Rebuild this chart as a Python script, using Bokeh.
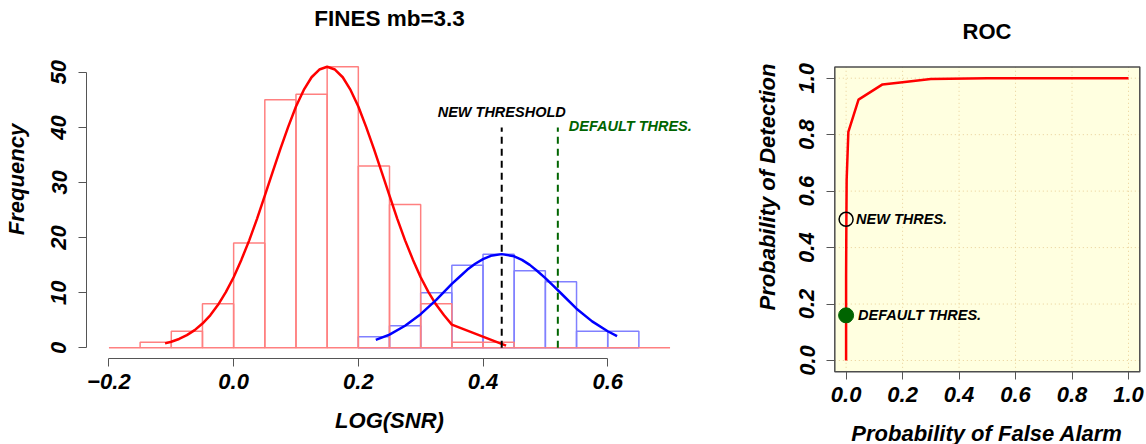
from bokeh.plotting import figure
from bokeh.layouts import row
from bokeh.models import FixedTicker, Range1d, PrintfTickFormatter
from bokeh.embed import file_html
from bokeh.resources import INLINE
from bokeh.core.properties import value

# ---------------- data ----------------
bin_width = 0.05
red_bin_left = [-0.20, -0.15, -0.10, -0.05, 0.00, 0.05, 0.10, 0.15, 0.20,
                0.25, 0.30, 0.35, 0.40, 0.45, 0.50, 0.55, 0.60, 0.65]
red_counts = [0, 1, 3, 8, 19, 45, 46, 51, 33, 26, 8, 1, 1, 0, 0, 0, 0, 0]

blue_bin_left = [0.20, 0.25, 0.30, 0.35, 0.40, 0.45, 0.50, 0.55, 0.60]
blue_counts = [2, 4, 10, 15, 17, 14, 12, 3, 3]

red_curve_x = [-0.11, -0.10, -0.0875, -0.075, -0.0625, -0.05, -0.0375, -0.025, -0.0125,
               0.0, 0.0125, 0.025, 0.0375, 0.05, 0.0625, 0.075, 0.0875, 0.10, 0.1125,
               0.125, 0.1375, 0.15, 0.1625, 0.175, 0.1875, 0.20, 0.2125, 0.225, 0.2375,
               0.25, 0.2625, 0.275, 0.2875, 0.30, 0.3125, 0.325, 0.3375, 0.35, 0.437]
red_curve_y = [0.8, 1.1, 1.6, 2.3, 3.2, 4.4, 5.9, 7.8, 10.1,
               12.8, 16.0, 19.5, 23.4, 27.6, 31.9, 36.1, 40.1, 43.8, 46.8,
               49.1, 50.5, 51.0, 50.5, 49.1, 46.8, 43.8, 40.1, 36.1, 31.9,
               27.6, 23.4, 19.5, 16.0, 12.8, 10.1, 7.8, 5.9, 4.2, 0.4]

blue_curve_x = [0.228, 0.25, 0.275, 0.30, 0.325, 0.35, 0.3625, 0.375, 0.3875, 0.40,
                0.4125, 0.43, 0.45, 0.4625, 0.475, 0.4875, 0.50, 0.5125, 0.525,
                0.55, 0.575, 0.60, 0.615]
blue_curve_y = [1.45, 2.4, 4.0, 6.1, 8.7, 11.6, 12.9, 14.2, 15.25, 16.1,
                16.7, 17.0, 16.6, 15.95, 15.05, 13.9, 12.65, 11.3, 9.9,
                7.1, 4.8, 3.0, 2.1]

new_threshold = 0.43
default_threshold = 0.52
threshold_line_top = 40

hist_x_ticks = [-0.2, 0.0, 0.2, 0.4, 0.6]
hist_x_labels = ["\u22120.2", "0.0", "0.2", "0.4", "0.6"]
hist_y_ticks = [0, 10, 20, 30, 40, 50]
hist_box = (-0.236, 0.736, -2.04, 53.04)   # R plot region (xmin, xmax, ymin, ymax)

roc_pfa = [0.0, 0.0, 0.001, 0.002, 0.008, 0.044, 0.129, 0.2, 0.3, 0.5, 1.0]
roc_pd = [0.0, 0.3, 0.5, 0.64, 0.81, 0.924, 0.978, 0.986, 0.997, 1.0, 1.0]
roc_ticks = [0.0, 0.2, 0.4, 0.6, 0.8, 1.0]
roc_lim = (-0.04, 1.04)
new_point = (0.0, 0.50)
default_point = (0.0, 0.16)

FONT = "Liberation Sans"
TICK_FS = "22px"
LAB_FS = "22px"
ANN_FS = "14.5px"
DARKGREEN = "#006400"

# histogram: frame from canvas top down to the x-axis line (358 px)
H_FRAME_H = 358
H_PX_Y = 5.51          # px per count
H_Y0 = 347.3           # px of count 0
# ROC: frame from canvas top down to 373 px
R_FRAME_H = 373
R_PX = 282.3           # px per unit
R_Y0 = 360.0           # px of y=0


def style_axes(p):
    for ax in (p.xaxis, p.yaxis):
        ax.major_label_text_font = FONT
        ax.major_label_text_font_style = "bold italic"
        ax.major_label_text_font_size = TICK_FS
        ax.major_label_text_color = "black"
        ax.axis_label_text_font = FONT
        ax.axis_label_text_font_style = "bold italic"
        ax.axis_label_text_font_size = LAB_FS
        ax.axis_label_text_color = "black"
        ax.major_tick_line_color = "#555555"
        ax.minor_tick_line_color = None
    p.yaxis.major_label_orientation = "vertical"


def add_title(p, text, x, offset, size):
    p.text(x=[x], y=[p.y_range.end], text=[text], text_align="center",
           text_baseline="middle", y_offset=offset,
           text_font=value(FONT), text_font_style="bold",
           text_font_size=size, text_color="black")


# ---------------- histogram panel ----------------
p1 = figure(frame_width=606, frame_height=H_FRAME_H,
            x_range=Range1d(hist_box[0], hist_box[1]),
            y_range=Range1d(-(H_FRAME_H - H_Y0) / H_PX_Y, H_Y0 / H_PX_Y),
            min_border_left=84, min_border_right=30,
            min_border_top=0, min_border_bottom=444 - H_FRAME_H,
            output_backend="svg", toolbar_location=None)
p1.frame_align = False
p1.outline_line_color = None
p1.grid.visible = False
style_axes(p1)
add_title(p1, "FINES mb=3.3", (hist_box[0] + hist_box[1]) / 2, 18.3, "22.5px")

p1.quad(left=blue_bin_left, right=[b + bin_width for b in blue_bin_left],
        bottom=0, top=blue_counts, fill_color=None,
        line_color="#8080FF", line_width=1.5)
p1.quad(left=red_bin_left, right=[b + bin_width for b in red_bin_left],
        bottom=0, top=red_counts, fill_color=None,
        line_color="#FF8080", line_width=1.5)
p1.line(red_curve_x, red_curve_y, line_color="red", line_width=2.5)
p1.line(blue_curve_x, blue_curve_y, line_color="blue", line_width=2.5)

p1.segment(x0=[new_threshold], y0=[0], x1=[new_threshold], y1=[threshold_line_top],
           line_color="black", line_width=2, line_dash="7 5")
p1.segment(x0=[default_threshold], y0=[0], x1=[default_threshold], y1=[threshold_line_top],
           line_color=DARKGREEN, line_width=2, line_dash="7 5")
p1.text(x=[new_threshold], y=[threshold_line_top], text=["NEW THRESHOLD"],
        text_align="center", text_baseline="bottom", y_offset=-7,
        text_font=value(FONT), text_font_style="bold italic",
        text_font_size=ANN_FS, text_color="black")
p1.text(x=[default_threshold], y=[threshold_line_top], text=["DEFAULT THRES."],
        text_align="left", text_baseline="middle", x_offset=11, y_offset=-1,
        text_font=value(FONT), text_font_style="bold italic",
        text_font_size=ANN_FS, text_color=DARKGREEN)

p1.xaxis.axis_label = "LOG(SNR)"
p1.yaxis.axis_label = "Frequency"
p1.xaxis.ticker = FixedTicker(ticks=hist_x_ticks)
p1.xaxis.major_label_overrides = dict(zip(hist_x_ticks, hist_x_labels))
p1.xaxis.bounds = (hist_x_ticks[0], hist_x_ticks[-1])
p1.yaxis.ticker = FixedTicker(ticks=hist_y_ticks)
p1.yaxis.bounds = (hist_y_ticks[0], hist_y_ticks[-1])
p1.xaxis.axis_line_color = "#555555"
p1.yaxis.axis_line_color = "#555555"
for ax in (p1.xaxis, p1.yaxis):
    ax.major_tick_in = 0
    ax.major_tick_out = 8
p1.xaxis.major_label_standoff = 7
p1.xaxis.axis_label_standoff = 16
p1.yaxis.major_label_standoff = 12
p1.yaxis.axis_label_standoff = 20

# ---------------- ROC panel ----------------
r_x0 = roc_lim[0] - 2.3 / R_PX
r_x1 = roc_lim[1] + 1.7 / R_PX
p2 = figure(frame_width=309, frame_height=R_FRAME_H,
            x_range=Range1d(r_x0, r_x1),
            y_range=Range1d(-(R_FRAME_H - R_Y0) / R_PX, R_Y0 / R_PX),
            min_border_left=110, min_border_right=7,
            min_border_top=0, min_border_bottom=444 - R_FRAME_H,
            output_backend="svg", toolbar_location=None)
p2.frame_align = False
p2.outline_line_color = None
p2.grid.visible = False
style_axes(p2)
add_title(p2, "ROC", (r_x0 + r_x1) / 2, 30.7, "22px")

p2.quad(left=[roc_lim[0]], right=[roc_lim[1]], bottom=[roc_lim[0]], top=[roc_lim[1]],
        fill_color="#FFFFE0", line_color=None)
p2.segment(x0=roc_ticks, y0=[roc_lim[0]] * len(roc_ticks),
           x1=roc_ticks, y1=[roc_lim[1]] * len(roc_ticks),
           line_color="#E8CF98", line_dash="1 3", line_width=1)
p2.segment(x0=[roc_lim[0]] * len(roc_ticks), y0=roc_ticks,
           x1=[roc_lim[1]] * len(roc_ticks), y1=roc_ticks,
           line_color="#E8CF98", line_dash="1 3", line_width=1)
p2.quad(left=[roc_lim[0]], right=[roc_lim[1]], bottom=[roc_lim[0]], top=[roc_lim[1]],
        fill_color=None, line_color="#4d4d4d", line_width=1.5)

p2.xaxis.ticker = FixedTicker(ticks=roc_ticks)
p2.yaxis.ticker = FixedTicker(ticks=roc_ticks)
p2.xaxis.formatter = PrintfTickFormatter(format="%.1f")
p2.yaxis.formatter = PrintfTickFormatter(format="%.1f")
p2.xaxis.axis_line_color = None
p2.yaxis.axis_line_color = None
for ax in (p2.xaxis, p2.yaxis):
    ax.major_tick_in = 2
    ax.major_tick_out = 6
p2.xaxis.axis_label = "Probability of False Alarm"
p2.yaxis.axis_label = "Probability of Detection"
p2.xaxis.major_label_standoff = 7
p2.xaxis.axis_label_standoff = 16
p2.yaxis.major_label_standoff = 12
p2.yaxis.axis_label_standoff = 17

p2.line(roc_pfa, roc_pd, line_color="red", line_width=2.5)
p2.scatter(x=[new_point[0]], y=[new_point[1]], size=14, fill_color=None,
           line_color="black", line_width=1.5)
p2.scatter(x=[default_point[0]], y=[default_point[1]], size=15,
           fill_color=DARKGREEN, line_color=DARKGREEN)
p2.text(x=[new_point[0]], y=[new_point[1]], text=["NEW THRES."],
        text_align="left", text_baseline="middle", x_offset=10,
        text_font=value(FONT), text_font_style="bold italic",
        text_font_size=ANN_FS, text_color="black")
p2.text(x=[default_point[0]], y=[default_point[1]], text=["DEFAULT THRES."],
        text_align="left", text_baseline="middle", x_offset=12,
        text_font=value(FONT), text_font_style="bold italic",
        text_font_size=ANN_FS, text_color="black")

layout = row(p1, p2)
open("out.html", "w").write(file_html(layout, INLINE))
